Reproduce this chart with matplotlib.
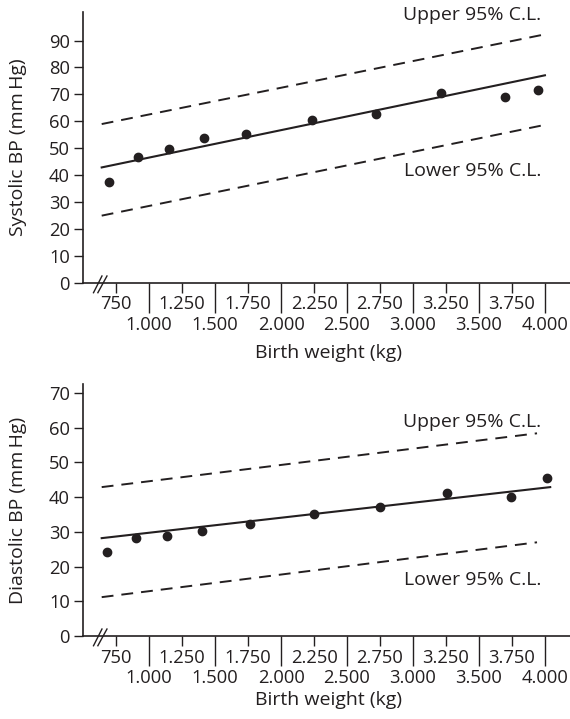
import matplotlib
matplotlib.use("Agg")
import matplotlib.pyplot as plt
from matplotlib.ticker import FixedLocator, FixedFormatter

plt.rcParams["font.family"] = ["Open Sans", "DejaVu Sans"]
INK = "#231f20"
TICK_FS = 13.2
TEXT_FS = 14.0

# Birth weight groups (g) and mean blood pressure
sys_weight = [697, 919, 1152, 1419, 1733, 2235, 2720, 3212, 3699, 3949]
sys_bp = [37.5, 46.8, 49.7, 53.8, 55.3, 60.6, 62.8, 70.5, 68.9, 71.8]
sys_fit_x = [640, 4000]
sys_fit = [42.9, 77.1]
sys_upper = [59.0, 92.3]
sys_lower = [25.0, 58.7]

dia_weight = [680, 899, 1134, 1404, 1765, 2250, 2752, 3258, 3742, 4012]
dia_bp = [24.3, 28.3, 28.8, 30.3, 32.4, 35.1, 37.3, 41.2, 40.1, 45.6]
dia_fit_x = [640, 4040]
dia_fit = [28.2, 42.9]
dia_cl_x = [640, 3940]
dia_upper = [42.9, 58.4]
dia_lower = [11.2, 27.0]

minor_ticks = [750, 1250, 1750, 2250, 2750, 3250, 3750]
minor_labels = ["750", "1.250", "1.750", "2.250", "2.750", "3.250", "3.750"]
major_ticks = [1000, 1500, 2000, 2500, 3000, 3500, 4000]
major_labels = ["1.000", "1.500", "2.000", "2.500", "3.000", "3.500", "4.000"]


def style_axes(ax, ylim, yticks, ylabel):
    ax.set_xlim(500, 4190)
    ax.set_ylim(*ylim)
    for side in ["top", "right"]:
        ax.spines[side].set_visible(False)
    for side in ["left", "bottom"]:
        ax.spines[side].set_linewidth(1.2)
        ax.spines[side].set_color(INK)
    ax.set_yticks(yticks)
    ax.tick_params(axis="y", direction="out", length=6.5, width=1.0, pad=3,
                   labelsize=TICK_FS, colors=INK)
    ax.xaxis.set_major_locator(FixedLocator(major_ticks))
    ax.xaxis.set_major_formatter(FixedFormatter(major_labels))
    ax.xaxis.set_minor_locator(FixedLocator(minor_ticks))
    ax.xaxis.set_minor_formatter(FixedFormatter(minor_labels))
    ax.tick_params(axis="x", which="major", direction="out", length=21.6, width=1.0,
                   pad=2.5, labelsize=TICK_FS, colors=INK)
    ax.tick_params(axis="x", which="minor", direction="out", length=7, width=1.0,
                   pad=2.0, labelsize=TICK_FS, colors=INK)
    ax.set_ylabel(ylabel, fontsize=TEXT_FS, color=INK, va="center")
    ax.yaxis.set_label_coords(-0.134, 0.5)
    ax.set_xlabel("Birth weight (kg)", fontsize=TEXT_FS, color=INK, va="center")

    # axis break marks
    h = ax.bbox.height
    trans = ax.get_xaxis_transform()
    for x0, x1 in [(578, 642), (611, 680)]:
        ax.plot([x0, x1], [-9.7 / h, 7 / h], color=INK, lw=1.0,
                transform=trans, clip_on=False)


def draw_panel(ax, wx, bp, fit_x, fit, cl_x, upper, lower):
    ax.plot(fit_x, fit, color=INK, lw=1.5)
    ax.plot(cl_x, upper, color=INK, lw=1.4, dashes=(6.1, 4.1))
    ax.plot(cl_x, lower, color=INK, lw=1.4, dashes=(6.1, 4.1))
    ax.plot(wx, bp, "o", color=INK, ms=6, clip_on=False)


fig = plt.figure(figsize=(5.7, 7.19), dpi=100)
ax1 = fig.add_axes([0.146, 0.6064, 0.854, 0.3773])
ax2 = fig.add_axes([0.146, 0.1154, 0.854, 0.3505])

draw_panel(ax1, sys_weight, sys_bp, sys_fit_x, sys_fit, sys_fit_x, sys_upper, sys_lower)
style_axes(ax1, (0, 100.7), range(0, 100, 10), "Systolic BP (mm\u2009Hg)")
ax1.xaxis.set_label_coords(0.503, -0.258)
ax1.text(3970, 99.4, "Upper 95% C.L.", ha="right", va="center", fontsize=TEXT_FS, color=INK)
ax1.text(3970, 41.5, "Lower 95% C.L.", ha="right", va="center", fontsize=TEXT_FS, color=INK)

draw_panel(ax2, dia_weight, dia_bp, dia_fit_x, dia_fit, dia_cl_x, dia_upper, dia_lower)
style_axes(ax2, (0, 72.6), range(0, 80, 10), "Diastolic BP (mm\u2009Hg)")
ax2.xaxis.set_label_coords(0.503, -0.254)
ax2.text(3970, 61.8, "Upper 95% C.L.", ha="right", va="center", fontsize=TEXT_FS, color=INK)
ax2.text(3970, 16.1, "Lower 95% C.L.", ha="right", va="center", fontsize=TEXT_FS, color=INK)

fig.savefig("out.png", dpi=100)
